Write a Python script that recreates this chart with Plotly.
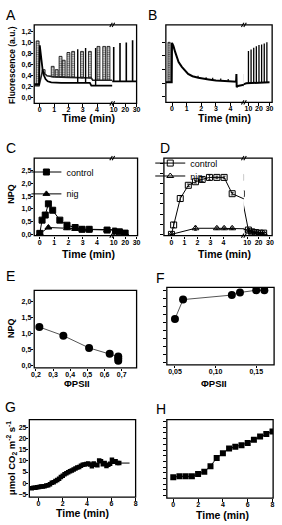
import plotly.graph_objects as go

W, H = 282, 525
def fx(p): return p / W
def fy(p): return 1 - p / H

# ---------------- DATA ----------------
# Panel A (fluorescence, a.u.)
a_black_t = [-0.4, -0.05, 0.0, 0.05, 0.1, 0.15, 0.2, 0.3, 0.4, 0.55, 0.8, 1.5, 2.0, 3.5, 3.6, 5.1]
a_black_f = [0.25, 0.25, 0.95, 0.85, 0.7, 0.58, 0.5, 0.4, 0.34, 0.3, 0.28, 0.27, 0.27, 0.27, 0.22, 0.22]
a_grey_t = [-0.4, -0.05, 0.2, 0.3, 0.5, 1.0, 2.0, 3.6, 3.7, 5.1]
a_grey_f = [0.22, 0.22, 0.5, 0.45, 0.4, 0.38, 0.37, 0.36, 0.32, 0.32]
a_late_t = [8.0, 30.0]
a_late_f = [0.3, 0.3]
a_hatch_t = [-0.15, 0.27, 0.9, 1.18, 1.45, 1.67, 2.0, 2.33, 2.95, 3.5, 4.1, 4.5, 4.8]
a_hatch_base = [0.22, 0.45, 0.38, 0.38, 0.38, 0.38, 0.37, 0.37, 0.36, 0.36, 0.32, 0.32, 0.32]
a_hatch_peak = [1.03, 0.51, 0.57, 0.51, 0.75, 0.68, 0.82, 0.84, 0.84, 0.84, 0.93, 0.93, 0.93]
a_spike_t = [2.65, 3.2, 3.9, 10, 15.5, 21, 26.5]
a_spike_base = [0.27, 0.27, 0.22, 0.3, 0.3, 0.3, 0.3]
a_spike_peak = [0.88, 0.9, 0.9, 0.92, 0.99, 1.0, 1.04]

# Panel B
b_t = [-0.42, -0.02, 0.0, 0.1, 0.22, 0.35, 0.45, 0.67, 0.9, 1.1, 1.4, 1.8, 2.5, 3.0, 3.6, 4.2, 4.38, 4.4, 4.42, 4.5, 5.0]
b_f = [0.27, 0.27, 0.99, 0.93, 0.82, 0.7, 0.64, 0.55, 0.47, 0.42, 0.38, 0.35, 0.32, 0.3, 0.29, 0.28, 0.28, 0.42, 0.18, 0.2, 0.23]
b_late_t = [5.0, 8.0, 30.0]
b_late_f = [0.23, 0.25, 0.27]
b_hatch_t = [-0.2]
b_hatch_base = [0.27]
b_hatch_peak = [1.0]
b_bump_t = [1.78, 2.33, 2.78, 3.33, 3.84]
b_bump_base = [0.35, 0.32, 0.31, 0.3, 0.29]
b_bump_peak = [0.39, 0.36, 0.35, 0.34, 0.33]
b_spike_t = [10, 12.5, 15, 17.5, 20, 22.5, 25, 27.5]
b_spike_base = [0.25, 0.25, 0.25, 0.26, 0.26, 0.26, 0.27, 0.27]
b_spike_peak = [0.84, 0.87, 0.9, 0.93, 0.95, 0.96, 0.98, 1.0]

# Panel C (NPQ)
c_ctrl_t = [0, 0.16, 0.38, 0.6, 0.9, 1.4, 1.9, 2.47, 2.95, 3.45, 4.7, 10, 15, 20]
c_ctrl_v = [0.04, 0.56, 0.76, 1.2, 0.95, 0.56, 0.36, 0.27, 0.2, 0.2, 0.17, 0.13, 0.1, 0.05]
c_ctrl_e = [0, 0.05, 0.05, 0.08, 0.06, 0.05, 0.05, 0.05, 0.1, 0.1, 0.05, 0.05, 0.05, 0.03]
c_nig_t = [0, 0.6, 1.9, 2.47, 2.95, 3.45, 4.7, 10, 15, 20]
c_nig_v = [0.03, 0.27, 0.24, 0.22, 0.2, 0.19, 0.17, 0.12, 0.09, 0.04]
c_nig_e = [0, 0.05, 0.05, 0.05, 0.08, 0.08, 0.05, 0.05, 0.04, 0.03]

# Panel D (NPQ)
d_ctrl_t = [0, 0.17, 0.68, 1.3, 1.85, 2.37, 2.93, 3.5, 4.06, 4.68, 11, 14, 17.5, 21, 24.5]
d_ctrl_v = [0.0, 0.37, 1.41, 1.93, 2.07, 2.16, 2.24, 2.24, 2.24, 1.6, 0.17, 0.1, 0.07, 0.05, 0.05]
d_ctrl_e = [0, 0.1, 0.12, 0.05, 0.05, 0.08, 0.1, 0.05, 0.05, 0.05, 0.05, 0.04, 0.03, 0.03, 0.03]
d_nig_t = [0, 1.85, 3.5, 4.06, 4.68, 11, 14, 17.5, 21, 24.5]
d_nig_v = [0.0, 0.24, 0.24, 0.24, 0.24, 0.15, 0.1, 0.07, 0.05, 0.05]
d_nig_e = [0, 0.08, 0.05, 0.05, 0.05, 0.03, 0.03, 0.03, 0.03, 0.03]

# Panel E (NPQ vs PhiPSII)
e_x = [0.22, 0.36, 0.51, 0.63, 0.68, 0.68, 0.68]
e_y = [1.2, 0.93, 0.55, 0.37, 0.28, 0.22, 0.15]

# Panel F
f_x = [0.05, 0.06, 0.12, 0.13, 0.15, 0.16]
f_y = [1.36, 1.96, 2.1, 2.18, 2.25, 2.25]

# Panel G (umol CO2 m-2 s-1)
g_t = [-0.55, -0.4, -0.25, -0.1, 0.05, 0.2, 0.35, 0.5, 0.65, 0.8, 0.95, 1.1, 1.25, 1.4, 1.55, 1.7, 1.85,
       2.0, 2.15, 2.3, 2.45, 2.6, 2.75, 2.9, 3.05, 3.2, 3.35, 3.5, 3.65, 3.8, 3.95, 4.1, 4.25, 4.4, 4.55,
       4.7, 4.85, 5.0, 5.15, 5.3, 5.45, 5.6, 5.75, 5.9, 6.05, 6.2, 6.35, 6.5, 6.65]
g_v = [-2.2, -2.0, -2.0, -1.8, -1.7, -1.5, -1.4, -1.3, -1.0, -0.9, -0.5, 0.2, 0.5, 1.0, 1.5, 2.0, 2.8,
       3.3, 4.0, 4.5, 4.9, 5.4, 5.7, 6.1, 6.6, 7.0, 7.3, 7.8, 8.2, 8.4, 8.6, 8.8, 8.4, 7.6, 8.8,
       8.2, 8.0, 10.2, 9.8, 8.5, 9.0, 7.7, 8.3, 8.7, 10.5, 9.6, 9.8, 9.0, 9.0]
g_tail_t = [6.65, 7.5]
g_tail_v = [9.0, 9.0]

# Panel H
h_t = [0, 0.5, 1.0, 1.5, 2.0, 2.5, 3.0, 3.5, 4.0, 4.5, 5.0, 5.5, 6.0, 6.5, 7.0, 7.5, 8.0]
h_v = [3.0, 3.4, 3.4, 3.4, 4.4, 5.4, 7.9, 11.5, 13.6, 15.7, 16.4, 17.1, 18.1, 19.5, 20.9, 22.0, 23.2]

# ---------------- FIGURE ----------------
FONT = "Liberation Sans, Arial, sans-serif"
fig = go.Figure()

def pulses(ts, bs, ps):
    xs, ys = [], []
    for t, b, p in zip(ts, bs, ps):
        xs += [t, t, None]
        ys += [b, p, None]
    return xs, ys

def add_line(x, y, xa, ya, width=1.6, color="black"):
    fig.add_trace(go.Scatter(x=x, y=y, mode="lines", line=dict(color=color, width=width),
                             xaxis=xa, yaxis=ya, showlegend=False, hoverinfo="skip"))

def add_hatch(ts, bs, ps, xa, ya, width):
    fig.add_trace(go.Bar(x=ts, y=[p - b for p, b in zip(ps, bs)], base=bs, width=width,
                         marker=dict(color="white", line=dict(color="black", width=0.8),
                                     pattern=dict(shape="-", fgcolor="black", size=2.2, solidity=0.6)),
                         xaxis=xa, yaxis=ya, showlegend=False, hoverinfo="skip"))

# A
for xa in ("x", "x2"):
    add_line(a_grey_t, a_grey_f, xa, "y", 1.6, "#222")
    add_line(a_black_t, a_black_f, xa, "y", 1.8)
    add_line(a_late_t, a_late_f, xa, "y", 1.8)
add_hatch(a_hatch_t, a_hatch_base, a_hatch_peak, "x", "y", 0.2)
sx, sy = pulses(a_spike_t, a_spike_base, a_spike_peak)
add_line(sx, sy, "x", "y", 1.4)
add_line(sx, sy, "x2", "y", 1.6)

# B
for xa in ("x3", "x4"):
    add_line(b_t, b_f, xa, "y2", 2.0)
    add_line(b_late_t, b_late_f, xa, "y2", 2.0)
add_hatch(b_hatch_t, b_hatch_base, b_hatch_peak, "x3", "y2", 0.15)
bx, by = pulses(b_bump_t, b_bump_base, b_bump_peak)
add_line(bx, by, "x3", "y2", 1.2)
sx, sy = pulses(b_spike_t, b_spike_base, b_spike_peak)
add_line(sx, sy, "x4", "y2", 1.3)

# C / D series
def series(x, y, e, xa, ya, symbol):
    fig.add_trace(go.Scatter(x=x, y=y, mode="lines+markers",
                             error_y=dict(type="data", array=e, color="black", thickness=0.8, width=1.5),
                             line=dict(color="black", width=1),
                             marker=dict(symbol=symbol, size=6, color="black", line=dict(width=1, color="black")),
                             xaxis=xa, yaxis=ya, showlegend=False, hoverinfo="skip"))

def legend_entry(name, symbol, xa, ya, legend):
    fig.add_trace(go.Scatter(x=[None], y=[None], mode="lines+markers", name=name,
                             line=dict(color="black", width=1),
                             marker=dict(symbol=symbol, size=6, color="black", line=dict(width=1, color="black")),
                             xaxis=xa, yaxis=ya, showlegend=True, legend=legend))

for xa in ("x5", "x6"):
    series(c_ctrl_t, c_ctrl_v, c_ctrl_e, xa, "y3", "square")
    series(c_nig_t, c_nig_v, c_nig_e, xa, "y3", "triangle-up")
for xa in ("x7", "x8"):
    series(d_ctrl_t, d_ctrl_v, d_ctrl_e, xa, "y4", "square-open")
    series(d_nig_t, d_nig_v, d_nig_e, xa, "y4", "triangle-up-open")
legend_entry("control", "square", "x5", "y3", "legend")
legend_entry("nig", "triangle-up", "x5", "y3", "legend2")
legend_entry("control", "square-open", "x7", "y4", "legend3")
legend_entry("nig", "triangle-up-open", "x7", "y4", "legend4")

# E
fig.add_trace(go.Scatter(x=e_x, y=e_y, mode="lines+markers", line=dict(color="#555", width=1),
                         marker=dict(symbol="circle", size=8, color="black"),
                         xaxis="x9", yaxis="y5", showlegend=False))
# F
fig.add_trace(go.Scatter(x=f_x, y=f_y, mode="lines+markers", line=dict(color="#555", width=1),
                         marker=dict(symbol="circle", size=8, color="black"),
                         xaxis="x10", yaxis="y6", showlegend=False))
# G
fig.add_trace(go.Scatter(x=g_t, y=g_v, mode="lines+markers", line=dict(color="black", width=1),
                         marker=dict(symbol="square", size=4.5, color="black"),
                         xaxis="x11", yaxis="y7", showlegend=False))
add_line(g_tail_t, g_tail_v, "x11", "y7", 1.0)
# H
fig.add_trace(go.Scatter(x=h_t, y=h_v, mode="lines+markers", line=dict(color="black", width=1),
                         marker=dict(symbol="square", size=6, color="black"),
                         xaxis="x12", yaxis="y8", showlegend=False))

# ---------------- AXES ----------------
TICKFONT = dict(family=FONT, size=7, color="black", weight="bold")

def xax(dom, rng, anchor, tickvals, fmt=None, labels=True):
    d = dict(domain=[fx(dom[0]), fx(dom[1])], range=rng, anchor=anchor, tickvals=tickvals,
             ticks="outside", ticklen=2.5, tickwidth=1, tickcolor="black", showgrid=False, zeroline=False,
             showline=False, tickfont=TICKFONT, showticklabels=labels, fixedrange=True,
             ticklabelstandoff=-3)
    if fmt:
        d["tickformat"] = fmt
    return d

def yax(dom, rng, anchor, tickvals, fmt=None, labels=True):
    d = dict(domain=[fy(dom[1]), fy(dom[0])], range=rng, anchor=anchor, tickvals=tickvals,
             ticks="outside", ticklen=2.5, tickwidth=1, tickcolor="black", showgrid=False, zeroline=False,
             showline=False, tickfont=TICKFONT, showticklabels=labels, fixedrange=True,
             ticklabelstandoff=-2)
    if fmt:
        d["tickformat"] = fmt
    return d

A_Y = (25, 104); B_Y = (25, 103); C_Y = (159, 237); D_Y = (159, 237)
E_Y = (292, 370); F_Y = (289, 367); G_Y = (422, 500); H_Y = (422, 501)

layout_axes = dict(
    xaxis=xax((32, 112), [-0.39, 5.06], "y", [0, 1, 2, 3, 4]),
    xaxis2=xax((112, 137), [8.7, 30.0], "y", [10, 20, 30]),
    yaxis=yax(A_Y, [-0.1, 1.32], "x", [0, 0.2, 0.4, 0.6, 0.8, 1.0, 1.2], ".1f"),
    xaxis3=xax((167, 247), [-0.42, 4.91], "y2", [0, 1, 2, 3, 4]),
    xaxis4=xax((247, 276), [5.65, 32.5], "y2", [10, 20, 30]),
    yaxis2=yax(B_Y, [-0.1, 1.32], "x3", [0, 0.25, 0.5, 0.75, 1.0], labels=False),
    xaxis5=xax((32, 112), [-0.39, 5.06], "y3", [0, 1, 2, 3, 4]),
    xaxis6=xax((112, 138), [8.7, 30.9], "y3", [10, 20, 30]),
    yaxis3=yax(C_Y, [-0.05, 3.0], "x5", [0, 0.5, 1.0, 1.5, 2.0, 2.5], ".1f"),
    xaxis7=xax((165, 247), [-0.58, 5.58], "y4", [0, 1, 2, 3, 4]),
    xaxis8=xax((247, 276), [7.0, 32.0], "y4", [10, 20, 30]),
    yaxis4=yax(D_Y, [-0.05, 3.0], "x7", [0, 0.4, 0.8, 1.2, 1.6, 2.0, 2.4, 2.8], labels=False),
    xaxis9=xax((32, 137), [0.19, 0.787], "y5", [0.2, 0.3, 0.4, 0.5, 0.6, 0.7], ".1f"),
    yaxis5=yax(E_Y, [-0.07, 2.34], "x9", [0, 0.5, 1.0, 1.5, 2.0], ".1f"),
    xaxis10=xax((168, 278), [0.04, 0.172], "y6", [0.05, 0.10, 0.15], ".2f"),
    yaxis6=yax(F_Y, [-0.07, 2.34], "x10", [0, 0.25, 0.5, 0.75, 1.0, 1.25, 1.5, 1.75, 2.0, 2.25], labels=False),
    xaxis11=xax((27, 136), [-0.75, 8.0], "y7", [0, 2, 4, 6, 8]),
    yaxis7=yax(G_Y, [-6.2, 28.4], "x11", [-5, 0, 5, 10, 15, 20, 25]),
    xaxis12=xax((168, 277), [-0.52, 8.05], "y8", [0, 2, 4, 6, 8]),
    yaxis8=yax(H_Y, [-6.2, 28.4], "x12", [-5, -2.5, 0, 2.5, 5, 7.5, 10, 12.5, 15, 17.5, 20, 22.5, 25, 27.5], labels=False),
)

# frames
frames = [((32, 137), A_Y), ((167, 276), B_Y), ((32, 138), C_Y), ((165, 276), D_Y),
          ((32, 137), E_Y), ((168, 278), F_Y), ((27, 136), G_Y), ((168, 277), H_Y)]
shapes = [dict(type="rect", xref="paper", yref="paper", x0=fx(xr[0]), x1=fx(xr[1]), y0=fy(yr[1]), y1=fy(yr[0]),
               line=dict(color="black", width=1.3), layer="above") for xr, yr in frames]
# axis break marks (two short slanted strokes)
for bx_, y0, y1 in [(112, 25, 104), (247, 25, 103), (112, 159, 237), (247, 159, 237)]:
    for yy in (y0, y1):
        for dx in (-1.2, 1.2):
            shapes.append(dict(type="line", xref="paper", yref="paper",
                               x0=fx(bx_ + dx - 1.3), y0=fy(yy + 2.2), x1=fx(bx_ + dx + 1.3), y1=fy(yy - 2.2),
                               line=dict(color="black", width=1.1), layer="above"))

ann = []
def text(x, y, s, size, bold=False, angle=0, xanchor="center"):
    ann.append(dict(x=fx(x), y=fy(y), xref="paper", yref="paper", text=s, showarrow=False, textangle=angle,
                    xanchor=xanchor, yanchor="middle",
                    font=dict(family=FONT, size=size, color="black", weight="bold" if bold else "normal")))

# panel letters
for lab, x, y in [("A", 8.5, 15), ("B", 153.5, 15), ("C", 8.5, 149), ("D", 166, 149),
                  ("E", 7.5, 278), ("F", 161, 280), ("G", 8, 409), ("H", 162, 411)]:
    text(x, y, lab, 14)
# axis titles
for x, y in [(88, 119), (227, 119), (88, 255), (227, 255), (82, 516), (225, 518)]:
    text(x, y, "Time (min)", 10.5, bold=True)
text(76, 386, "ΦPSII", 9.5, bold=True)
text(216, 386, "ΦPSII", 9.5, bold=True)
text(8.5, 65, "Fluorescence (a.u.)", 8.5, bold=True, angle=-90)
text(8, 195, "NPQ", 9, bold=True, angle=-90)
text(8, 330, "NPQ", 9, bold=True, angle=-90)
text(9, 461, "μmol CO<sub>2</sub> m<sup>-2</sup> s<sup>-1</sup>", 9.5, bold=True, angle=-90)

def leg(x, y):
    return dict(x=fx(x), y=fy(y), xanchor="left", yanchor="middle", bgcolor="rgba(0,0,0,0)",
                font=dict(family=FONT, size=9, color="black"), itemwidth=30, borderwidth=0)

fig.update_layout(
    width=W, height=H, margin=dict(l=0, r=0, t=0, b=0),
    paper_bgcolor="white", plot_bgcolor="white", barmode="overlay", separators=",.",
    font=dict(family=FONT, color="black"),
    shapes=shapes, annotations=ann,
    legend=leg(24, 173), legend2=leg(24, 195), legend3=leg(151, 164), legend4=leg(151, 177),
    **layout_axes,
)
fig.write_html("out.html")
